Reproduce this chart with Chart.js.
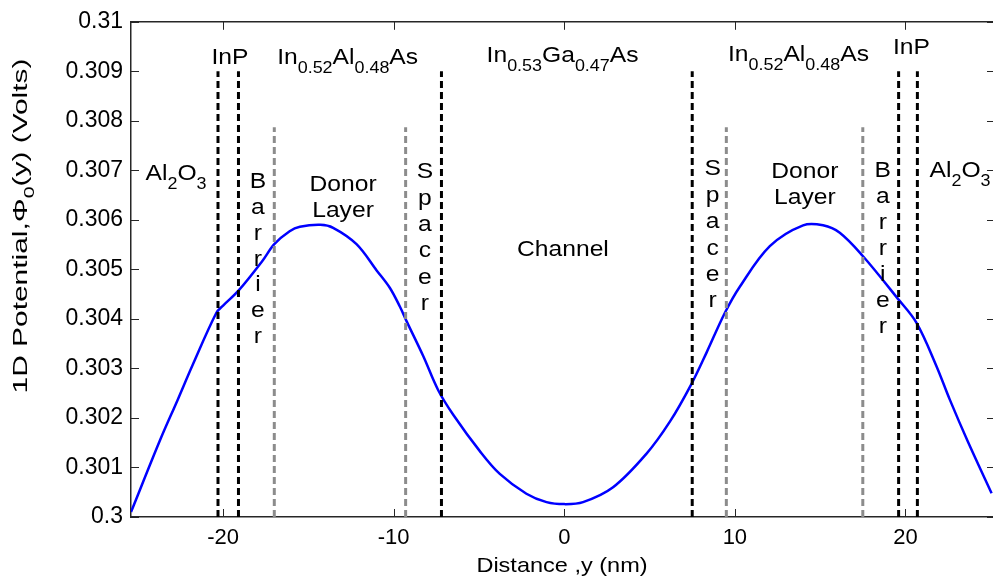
<!DOCTYPE html>
<html>
<head>
<meta charset="utf-8">
<script src="https://cdn.jsdelivr.net/npm/chart.js@4.4.1/dist/chart.umd.min.js"></script>
<style>
  html, body { margin: 0; padding: 0; background: #fff; overflow: hidden; width: 993px; height: 579px; }
  canvas { display: block; }
</style>
</head>
<body>
<canvas id="potChart" width="996" height="579"></canvas>
<script>
// distance along y (nm) and 1D potential (V)
const distance = [-25.4, -23.7, -22.66, -21.8, -20.4, -20.0, -19.1, -17.7, -17.0, -16.1, -15.5, -14.3, -13.55,
  -12.18, -11.0, -10.23, -9.64, -9.24, -8.27, -7.39, -6.5, -4.95, -3.78, -2.22, -1.04, 0, 1.1, 2.86, 4.8, 6.2, 7.46,
  8.34, 9.41, 10.29, 12.05, 14.0, 15.17, 16.15, 17.5, 19.55, 20.65, 21.8, 22.6, 23.65, 25.05];
const potential = [0.3001, 0.30155, 0.30237, 0.30306, 0.30412, 0.30427, 0.30457, 0.30517, 0.30551, 0.30577, 0.30586, 0.3059, 0.30584,
  0.30551, 0.30498, 0.30463, 0.30425, 0.30395, 0.30325, 0.30256, 0.30206, 0.30133, 0.30087, 0.30047, 0.3003, 0.30026, 0.3003, 0.3006, 0.30127, 0.30193, 0.30269,
  0.30332, 0.30412, 0.30465, 0.30547, 0.30589, 0.30589, 0.30574, 0.30527, 0.30441, 0.30392, 0.30306, 0.30237, 0.30153, 0.30048];

// layer boundaries (nm)
const materialEdges = [-20.3, -19.1, -7.2, 7.5, 19.6, 20.7];
const materialTop = 0.309;
const regionEdges = [-17.0, -9.3, 9.5, 17.5];
const regionTop = 0.30787;
const axisFloor = 0.3;

const xTicks = [-20, -10, 0, 10, 20];

// text labels: segments [text, isSubscript]
const layerLabels = [
  { segs: [['InP', 0]], x: -19.6, y: 0.309145 },
  { segs: [['In', 0], ['0.52', 1], ['Al', 0], ['0.48', 1], ['As', 0]], x: -12.7, y: 0.309145 },
  { segs: [['In', 0], ['0.53', 1], ['Ga', 0], ['0.47', 1], ['As', 0]], x: -0.1, y: 0.309185 },
  { segs: [['In', 0], ['0.52', 1], ['Al', 0], ['0.48', 1], ['As', 0]], x: 13.73, y: 0.309205 },
  { segs: [['InP', 0]], x: 20.35, y: 0.309344 },
  { segs: [['Al', 0], ['2', 1], ['O', 0], ['3', 1]], x: -22.76, y: 0.3068 },
  { segs: [['Al', 0], ['2', 1], ['O', 0], ['3', 1]], x: 23.2, y: 0.30686 },
  { segs: [['Donor', 0]], x: -12.97, y: 0.30658 },
  { segs: [['Layer', 0]], x: -12.97, y: 0.306064 },
  { segs: [['Channel', 0]], x: -0.08, y: 0.305268 },
  { segs: [['Donor', 0]], x: 14.1, y: 0.30684 },
  { segs: [['Layer', 0]], x: 14.1, y: 0.306322 }
];
const stackedLabels = [
  { text: 'Barrier', x: -17.96, y: 0.30664, step: 25.8 },
  { text: 'Spacer', x: -8.17, y: 0.30684, step: 26.4 },
  { text: 'Spacer', x: 8.7, y: 0.3069, step: 26.4 },
  { text: 'Barrier', x: 18.67, y: 0.30686, step: 26 }
];

const FONT = '"Liberation Sans", Arial, Helvetica, sans-serif';
const STRETCH = 1.12;
const LABEL_SIZE = 22;
const SUB_SIZE = 16;

function richWidth(ctx, segs, size, sub) {
  let w = 0;
  segs.forEach(s => {
    ctx.font = (s[1] ? sub : size) + 'px ' + FONT;
    w += ctx.measureText(s[0]).width;
  });
  return w;
}

function drawRich(ctx, segs, cx, baseline, size) {
  const w = richWidth(ctx, segs, size, SUB_SIZE);
  ctx.save();
  ctx.translate(cx, baseline);
  ctx.scale(STRETCH, 1);
  let x = -w / 2;
  ctx.textBaseline = 'alphabetic';
  ctx.textAlign = 'left';
  segs.forEach(s => {
    ctx.font = (s[1] ? SUB_SIZE : size) + 'px ' + FONT;
    ctx.fillText(s[0], x, s[1] ? 9 : 0);
    x += ctx.measureText(s[0]).width;
  });
  ctx.restore();
}

const framePlugin = {
  id: 'frame',
  afterDraw(chart) {
    const ctx = chart.ctx;
    const xs = chart.scales.x, ys = chart.scales.y;
    const a = chart.chartArea;
    ctx.save();
    ctx.strokeStyle = '#262626';
    ctx.lineWidth = 1.5;
    ctx.beginPath();
    ctx.moveTo(a.left, a.top); ctx.lineTo(a.right, a.top);
    ctx.moveTo(a.right, a.top); ctx.lineTo(a.right, a.bottom);
    ctx.stroke();
    ctx.lineWidth = 1;
    ctx.beginPath();
    xTicks.forEach(v => {
      const px = Math.round(xs.getPixelForValue(v)) + 0.5;
      ctx.moveTo(px, a.bottom); ctx.lineTo(px, a.bottom - 8);
      ctx.moveTo(px, a.top); ctx.lineTo(px, a.top + 8);
    });
    ys.ticks.forEach(t => {
      const py = Math.round(ys.getPixelForValue(t.value)) + 0.5;
      ctx.moveTo(a.left, py); ctx.lineTo(a.left + 8, py);
      ctx.moveTo(a.right, py); ctx.lineTo(a.right - 8, py);
    });
    ctx.stroke();

    ctx.fillStyle = '#000';
    layerLabels.forEach(l => {
      drawRich(ctx, l.segs, xs.getPixelForValue(l.x), ys.getPixelForValue(l.y), LABEL_SIZE);
    });
    stackedLabels.forEach(l => {
      const cx = xs.getPixelForValue(l.x);
      const by = ys.getPixelForValue(l.y);
      l.text.split('').forEach((ch, i) => {
        drawRich(ctx, [[ch, 0]], cx, by + i * l.step, LABEL_SIZE);
      });
    });

    // axis titles
    drawRich(ctx, [['Distance ,y (nm)', 0]], (a.left + a.right) / 2 - 1, 572, 21);

    const ySegs = [['1D Potential,', 0], ['\u03A6', 0], ['0', 1], ['(y) (Volts)', 0]];
    const w = richWidth(ctx, ySegs, 21, 15);
    const k = 335 / w;
    ctx.save();
    ctx.translate(27, 226);
    ctx.rotate(-Math.PI / 2);
    ctx.scale(k, 1);
    let x = -w / 2;
    ySegs.forEach(s => {
      ctx.font = (s[1] ? 15 : 21) + 'px ' + FONT;
      ctx.fillText(s[0], x, s[1] ? 7 : 0);
      x += ctx.measureText(s[0]).width;
    });
    ctx.restore();
    ctx.restore();
  }
};

function vline(x, top, color) {
  return {
    data: [{ x: x, y: axisFloor }, { x: x, y: top }],
    borderColor: color,
    borderWidth: 3,
    borderDash: [7, 4],
    pointRadius: 0,
    fill: false
  };
}

const datasets = [];
materialEdges.forEach(x => datasets.push(vline(x, materialTop, '#000000')));
regionEdges.forEach(x => datasets.push(vline(x, regionTop, '#8c8c8c')));
datasets.push({
  data: distance.map((d, i) => ({ x: d, y: potential[i] })),
  borderColor: '#0000ff',
  borderWidth: 2.5,
  pointRadius: 0,
  tension: 0.35,
  fill: false
});

new Chart(document.getElementById('potChart').getContext('2d'), {
  type: 'line',
  data: { datasets: datasets },
  options: {
    responsive: false,
    devicePixelRatio: 1,
    animation: false,
    layout: { padding: { left: 0, top: 14, right: 1, bottom: 0 } },
    plugins: { legend: { display: false }, tooltip: { enabled: false } },
    scales: {
      x: {
        type: 'linear',
        min: -25.4,
        max: 25.25,
        afterFit: s => { s.height = 62; },
        afterBuildTicks: s => { s.ticks = xTicks.map(v => ({ value: v })); },
        grid: { display: false, drawTicks: false },
        border: { display: true, color: '#262626', width: 1.5 },
        ticks: {
          padding: 8,
          color: '#000',
          font: { family: FONT, size: 22 },
          maxRotation: 0,
          callback: v => String(v)
        }
      },
      y: {
        type: 'linear',
        min: 0.3,
        max: 0.31,
        afterFit: s => { s.width = 131; },
        grid: { display: false, drawTicks: false },
        border: { display: true, color: '#262626', width: 1.5 },
        ticks: {
          stepSize: 0.001,
          padding: 8,
          color: '#000',
          font: { family: FONT, size: 23 },
          callback: v => String(parseFloat(Number(v).toFixed(3)))
        }
      }
    }
  },
  plugins: [framePlugin]
});
</script>
</body>
</html>
